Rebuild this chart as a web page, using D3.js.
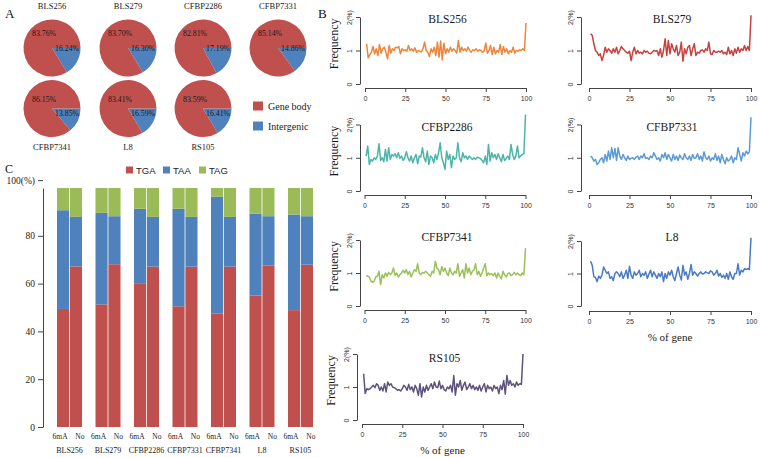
<!DOCTYPE html>
<html><head><meta charset="utf-8">
<script src="https://cdn.jsdelivr.net/npm/d3@7"></script>
<style>body{margin:0;background:#fff}svg{display:block}</style>
</head><body><svg id="c" width="760" height="458"></svg>
<script>
// ---------------- DATA ----------------
const strains = ["BLS256","BLS279","CFBP2286","CFBP7331","CFBP7341","L8","RS105"];
const geneBody   = [83.76,83.70,82.81,85.14,86.15,83.41,83.59];
const intergenic = [16.24,16.30,17.19,14.86,13.85,16.59,16.41];
const pieLegend = ["Gene body","Intergenic"];

const codons = ["TGA","TAA","TAG"];
const barKinds = ["6mA","No"];
const tga6mA = [49.4,51.3,59.9,50.5,47.4,55.0,48.9];
const taa6mA = [41.3,38.3,31.4,40.8,49.0,34.2,40.0];
const tag6mA = [9.3,10.4,8.7,8.7,3.6,10.8,11.1];
const tgaNo  = [67.2,68.1,67.1,67.1,67.1,67.5,67.9];
const taaNo  = [20.7,20.1,20.8,20.8,20.8,20.7,20.3];
const tagNo  = [12.1,11.8,12.1,12.1,12.1,11.8,11.8];
const barTicks = [0,20,40,60,80,103.3];
const barTickLabels = ["0","20","40","60","80","100(%)"];

const geneTicks = [0,25,50,75,100];
const freqTicks = [0,1,2];
const freqBLS256 = [1.20,0.78,0.88,0.95,1.12,0.90,1.05,0.85,1.18,0.92, 1.05,1.10,0.95,0.75,1.15,0.92,1.05,1.00,1.10,1.08,
 1.12,0.90,1.05,1.00,1.02,0.98,1.15,1.00,1.05,0.98, 1.08,0.95,1.00,0.98,0.96,1.05,1.25,1.00,0.95,0.82,
 1.05,0.95,1.10,0.85,1.25,0.80,1.28,0.72,1.22,0.90, 1.05,0.95,1.10,0.98,1.05,1.00,0.92,1.30,0.95,1.10,
 1.00,1.05,0.98,1.10,1.00,0.95,1.02,1.00,1.05,0.98, 1.02,1.00,0.95,0.98,1.22,0.92,1.00,1.15,0.88,1.10,
 0.90,1.00,0.95,1.18,0.88,1.12,0.95,1.05,0.90,1.00, 0.95,1.10,0.92,1.00,0.98,1.02,1.00,1.05,1.00,1.82];
const freqBLS279 = [1.50,1.45,1.20,1.00,0.95,0.85,0.90,0.70,0.85,1.10, 0.95,1.05,1.00,0.92,1.05,0.95,1.10,0.90,1.00,1.12,
 1.05,1.00,0.95,0.92,0.98,0.70,0.95,1.10,0.90,1.00, 0.92,0.95,0.90,1.00,0.95,0.98,0.92,0.90,0.95,1.00,
 0.98,1.00,0.85,1.05,0.80,1.00,1.35,0.85,1.30,0.90, 1.20,1.05,0.95,1.15,0.85,0.95,1.25,0.68,1.05,0.90,
 1.10,1.15,0.85,1.05,1.20,0.85,0.95,0.92,1.00,1.02, 0.95,1.05,1.00,1.25,0.90,0.88,1.00,0.95,0.95,0.98,
 0.95,1.00,0.90,0.95,0.88,1.10,0.90,1.00,0.85,1.05, 0.92,1.10,0.95,1.05,1.00,1.15,1.00,1.12,1.00,2.05];
const freqCFBP2286 = [1.05,1.35,0.80,0.95,0.90,1.00,0.95,1.05,1.42,0.92, 1.00,0.88,1.25,0.90,1.30,0.95,1.10,1.05,1.12,1.00,
 1.15,0.98,1.05,0.92,1.00,1.18,1.00,0.90,1.05,0.85, 1.00,1.10,0.82,1.05,1.02,1.30,1.00,0.88,1.20,0.80,
 1.05,1.00,0.85,1.10,0.95,1.15,1.45,1.00,0.85,0.65, 1.20,0.95,1.10,0.70,1.05,0.95,1.00,1.45,1.00,0.88,
 1.15,1.00,1.05,0.95,1.05,1.00,0.95,1.00,0.95,1.02, 1.00,0.98,0.92,0.85,1.05,0.80,1.40,0.90,1.15,1.00,
 1.10,0.95,1.12,1.00,0.88,1.10,0.92,0.98,1.05,0.95, 1.40,1.10,0.95,1.05,1.35,1.00,1.05,1.10,1.12,2.30];
const freqCFBP7331 = [1.05,1.00,0.90,0.95,0.80,0.85,0.95,1.00,0.85,1.10, 0.90,1.20,0.95,1.30,1.00,1.28,0.92,1.30,1.05,0.95,
 1.10,1.00,0.92,1.05,0.95,0.98,1.00,0.95,1.02,1.05, 0.95,1.05,1.00,1.12,0.98,1.00,0.95,1.05,1.00,1.15,
 1.05,0.95,1.00,0.90,1.10,1.00,1.15,0.95,1.10,1.00, 0.90,1.10,0.95,1.05,0.92,1.08,1.00,0.95,1.12,1.00,
 0.95,1.05,0.92,1.10,0.98,1.00,1.12,0.95,1.05,0.90, 1.18,1.00,0.95,1.05,0.90,1.00,0.95,1.12,0.92,1.05,
 0.85,1.10,0.95,0.82,1.00,0.90,0.95,1.05,0.85,1.00, 0.95,1.30,1.10,0.90,1.15,1.05,1.20,1.12,1.18,2.22];
const freqCFBP7341 = [0.92,0.90,0.88,0.75,0.72,0.75,0.88,0.90,1.05,0.65, 0.95,0.85,1.00,0.90,1.02,0.95,1.00,1.15,0.92,1.00,
 0.88,0.95,1.00,1.08,1.00,1.10,0.95,1.05,0.88,1.00, 1.10,1.05,1.28,1.00,0.95,1.02,1.00,1.05,1.00,0.95,
 0.90,1.05,1.00,1.35,1.15,1.10,0.95,1.20,1.05,1.15, 1.00,0.92,1.15,1.00,0.95,1.05,1.00,1.28,0.90,1.00,
 1.10,0.85,1.28,1.00,1.15,0.95,1.05,1.10,1.28,0.95, 1.05,0.90,1.00,1.15,1.28,0.92,1.00,0.95,0.98,0.92,
 1.00,0.85,1.00,0.90,0.82,1.05,0.95,0.88,0.98,1.00, 0.92,0.95,1.02,0.95,1.00,0.95,0.92,1.00,0.95,1.75];
const freqL8 = [1.38,1.25,0.90,0.88,0.75,0.92,0.85,0.95,1.20,1.10, 1.00,1.05,0.85,0.90,0.78,1.00,1.05,1.00,0.90,1.05,
 0.85,0.95,1.10,0.85,1.22,0.95,0.85,1.05,0.95,1.00, 1.10,0.90,1.00,0.95,1.05,0.85,0.98,1.10,0.90,1.05,
 0.95,0.85,1.00,0.90,1.05,0.75,1.00,0.85,1.05,0.95, 1.10,0.90,0.78,1.00,1.20,0.95,0.80,1.25,0.95,1.05,
 0.82,1.00,1.28,0.95,1.05,1.00,0.92,1.00,1.05,0.98, 1.00,1.05,1.02,1.00,1.08,1.05,0.95,1.00,1.10,0.92,
 1.00,0.88,0.95,0.85,1.00,0.82,1.05,0.90,0.82,1.00, 1.00,1.30,0.95,1.10,1.05,1.15,1.12,1.15,1.12,2.10];
const freqRS105 = [1.40,0.80,0.95,0.92,0.95,1.00,1.05,0.98,1.10,1.05, 0.90,1.00,0.88,1.10,0.85,1.15,1.05,1.10,1.00,0.98,
 0.95,0.90,0.92,0.88,0.95,1.05,1.00,0.90,1.08,0.92, 1.00,0.85,1.05,0.95,0.75,1.10,0.70,1.00,0.85,1.05,
 0.90,1.00,1.10,0.95,1.15,1.00,0.98,1.18,0.95,1.05, 0.92,0.88,1.00,0.95,1.05,0.85,1.35,0.75,1.10,1.00,
 1.20,0.90,1.05,1.15,0.92,1.00,1.10,0.95,1.05,0.92, 1.00,0.90,1.05,0.88,1.00,1.10,0.85,1.05,0.95,1.00,
 0.88,1.05,0.95,1.00,0.80,1.05,0.92,1.20,0.78,1.35, 1.05,1.20,1.05,1.10,1.00,1.15,1.05,1.10,1.08,2.00];

// ---------------- STYLE / LAYOUT ----------------
const svg = d3.select("#c");
const serif = "'Liberation Serif','Times New Roman',serif";
const sans = "'Liberation Sans',Arial,sans-serif";
const RED = "#c0504d", BLUE = "#4f81bd", GREEN = "#9bbb59";
const AX = "#444";

function txt(g, x, y, s, size, fam, anchor, col) {
  return g.append("text").attr("x", x).attr("y", y).attr("font-size", size)
    .attr("font-family", fam).attr("text-anchor", anchor || "start")
    .attr("dominant-baseline", "central").attr("fill", col || "#111").text(s);
}

// panel letters
txt(svg, 5, 13, "A", 13, serif);
txt(svg, 318, 13, "B", 13, serif);
txt(svg, 5, 169, "C", 12, serif);

// ---------------- PANEL A: pies ----------------
const pieCX = [52,128,203,278, 52,128,203];
const pieCY = [48,48,48,48, 108.5,108.5,108.5];
const R = 28.5;
const pie = d3.pie().sort(null).startAngle(Math.PI/2).endAngle(Math.PI/2 + 2*Math.PI);
const arc = d3.arc().innerRadius(0).outerRadius(R);
strains.forEach((s, i) => {
  const g = svg.append("g").attr("transform", `translate(${pieCX[i]},${pieCY[i]})`);
  const arcs = pie([intergenic[i], geneBody[i]]);
  g.selectAll("path").data(arcs).join("path").attr("d", arc)
    .attr("fill", (d, k) => k === 0 ? BLUE : RED);
  const top = i < 4;
  txt(g, -20, top ? -15 : -9, geneBody[i].toFixed(2) + "%", 7.8, serif, "start", "#1a1a1a");
  txt(g, 3, top ? 0 : 5, intergenic[i].toFixed(2) + "%", 7.8, serif, "start", "#1a1a1a");
  txt(g, 0, top ? -42 : 38.5, s, 8.5, serif, "middle", "#222");
});
// pie legend
[[RED, pieLegend[0], 106], [BLUE, pieLegend[1], 126]].forEach(([c, t, y]) => {
  svg.append("rect").attr("x", 253).attr("y", y - 4.5).attr("width", 10).attr("height", 9).attr("fill", c);
  txt(svg, 268, y, t, 10, serif, "start", "#222");
});

// ---------------- PANEL C: stacked bars ----------------
const yB = d3.scaleLinear().domain([0, 100]).range([427, 188]);
const xG = d3.scaleBand().domain(strains).range([57, 313]).paddingInner(0.35).paddingOuter(0);
const xK = d3.scaleBand().domain(barKinds).range([0, xG.bandwidth()]).paddingInner(0.06);
const stackRows = strains.flatMap((s, i) => [
  {strain: s, kind: "6mA", TGA: tga6mA[i], TAA: taa6mA[i], TAG: tag6mA[i]},
  {strain: s, kind: "No",  TGA: tgaNo[i],  TAA: taaNo[i],  TAG: tagNo[i]}
]);
const series = d3.stack().keys(codons)(stackRows);
const codonColor = d3.scaleOrdinal().domain(codons).range([RED, BLUE, GREEN]);
const gC = svg.append("g");
series.forEach(ser => {
  gC.append("g").attr("fill", codonColor(ser.key)).selectAll("rect").data(ser).join("rect")
    .attr("x", d => xG(d.data.strain) + xK(d.data.kind))
    .attr("width", xK.bandwidth())
    .attr("y", d => yB(d[1]))
    .attr("height", d => yB(d[0]) - yB(d[1]));
});
// y axis
const yAxC = gC.append("g").attr("transform", "translate(43,0)")
  .call(d3.axisLeft(yB).tickValues(barTicks).tickSize(5).tickSizeOuter(0)
    .tickFormat((d, k) => barTickLabels[k]));
yAxC.select(".domain").attr("stroke", AX);
yAxC.selectAll(".tick line").attr("stroke", AX);
yAxC.selectAll("text").attr("font-family", serif).attr("font-size", 9.5).attr("fill", "#222");
// x labels
const kindShift = {"6mA": -3, "No": 4};
strains.forEach(s => {
  barKinds.forEach(k => {
    txt(gC, xG(s) + xK(k) + xK.bandwidth()/2 + kindShift[k], 436, k, 7.5, serif, "middle", "#222");
  });
  txt(gC, xG(s) + xG.bandwidth()/2, 450, s, 8, serif, "middle", "#222");
});
// legend
const legX = [126, 163, 199];
codons.forEach((c, i) => {
  gC.append("rect").attr("x", legX[i]).attr("y", 166.5).attr("width", 7).attr("height", 7).attr("fill", codonColor(c));
  txt(gC, legX[i] + 10, 170.5, c, 9.5, sans, "start", "#222");
});

// ---------------- PANEL B: line charts ----------------
const lineSeries = [freqBLS256, freqBLS279, freqCFBP2286, freqCFBP7331, freqCFBP7341, freqL8, freqRS105];
const lineColors = ["#f0843a", "#c8413f", "#4bb5a8", "#5b9bd5", "#9bc05a", "#4a7bc4", "#5c527c"];
const geo = [
  {ax: 360, xl: 365, xr: 526, y0: 84, y2: 17, xa: 88, ty: 19},
  {ax: 581, xl: 589, xr: 751, y0: 84, y2: 17, xa: 88, ty: 19},
  {ax: 360, xl: 364.5, xr: 525.5, y0: 191, y2: 124.5, xa: 195, ty: 127},
  {ax: 581, xl: 589, xr: 751, y0: 191, y2: 124.5, xa: 195, ty: 127},
  {ax: 360, xl: 364.5, xr: 525.5, y0: 306, y2: 240, xa: 310, ty: 237},
  {ax: 581, xl: 589, xr: 751, y0: 306, y2: 241, xa: 311, ty: 237},
  {ax: 357, xl: 362, xr: 523, y0: 420, y2: 354, xa: 424, ty: 358}
];
const posIdx = d3.range(1, 101);
strains.forEach((s, i) => {
  const G = geo[i];
  const x = d3.scaleLinear().domain([0, 100]).range([G.xl, G.xr]);
  const y = d3.scaleLinear().domain([0, 2]).range([G.y0, G.y2]);
  const g = svg.append("g");
  const line = d3.line().x((d, k) => x(posIdx[k])).y(d => y(d));
  g.append("path").datum(lineSeries[i]).attr("d", line).attr("fill", "none")
    .attr("stroke", lineColors[i]).attr("stroke-width", 1.5).attr("stroke-linejoin", "round");
  const xa = g.append("g").attr("transform", `translate(0,${G.xa})`)
    .call(d3.axisBottom(x).tickValues(geneTicks).tickSize(4).tickSizeOuter(0).tickPadding(4));
  const ya = g.append("g").attr("transform", `translate(${G.ax},0)`)
    .call(d3.axisLeft(y).tickValues(freqTicks).tickSize(4).tickSizeOuter(0)
      .tickFormat(d => d === 2 ? "2(%)" : d));
  [xa, ya].forEach(a => {
    a.select(".domain").attr("stroke", AX);
    a.selectAll(".tick line").attr("stroke", AX);
    a.selectAll("text").attr("font-family", sans).attr("font-size", 7).attr("fill", "#333");
  });
  ya.selectAll(".tick text").attr("transform", "rotate(-90)").attr("dy", null)
    .attr("x", 0).attr("y", -11).attr("text-anchor", "middle")
    .attr("dominant-baseline", "central");
  txt(g, (G.xl + G.xr)/2 + 2, G.ty, s, 11.5, serif, "middle", "#1a1a1a");
  if (i % 2 === 0) {
    const fy = G.y0 - 1.2 * (G.y0 - G.y2) / 2;
    g.append("text").attr("transform", `translate(${G.ax - 26},${fy}) rotate(-90)`)
      .attr("text-anchor", "middle").attr("dominant-baseline", "central")
      .attr("font-family", serif).attr("font-size", 12).attr("fill", "#1a1a1a").text("Frequency");
  }
  if (i === 5 || i === 6) {
    txt(g, (G.xl + G.xr)/2, G.xa + 26, "% of gene", 11, serif, "middle", "#1a1a1a");
  }
});
</script>
</body></html>
